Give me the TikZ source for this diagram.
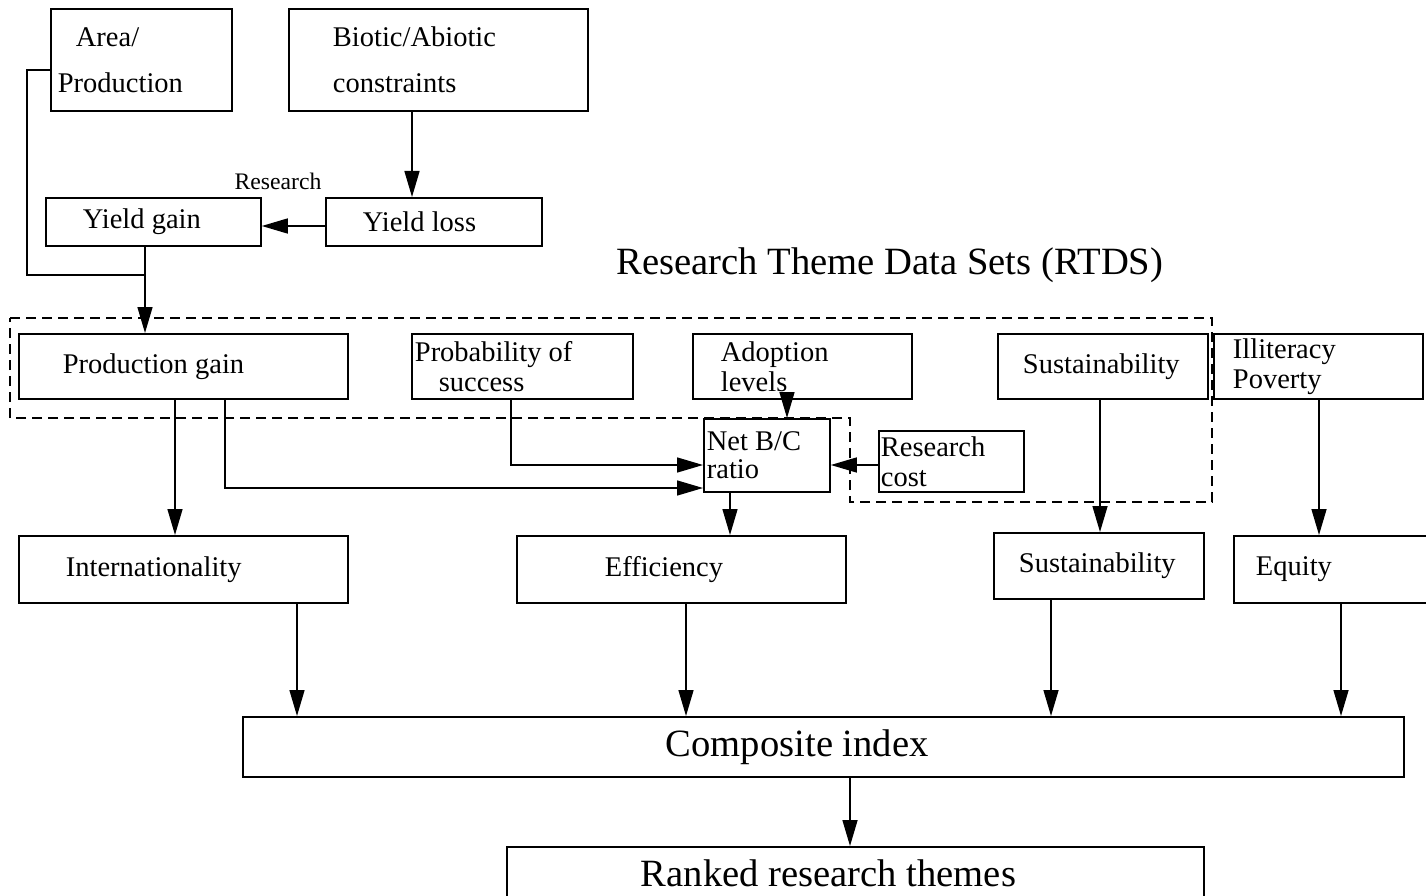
\documentclass[tikz,border=0pt]{standalone}
\usepackage{fontspec}
\setmainfont{Liberation Serif}
\usetikzlibrary{arrows.meta}
\tikzset{
  box/.style={draw, line width=1.8pt, rectangle, anchor=north west, align=flush left,
    inner ysep=0pt, font=\fontsize{28.5}{30}\selectfont},
  conn/.style={line width=1.5pt},
  arr/.style={conn, -{Triangle[length=26pt,width=15pt]}},
  region/.style={line width=1.6pt, dash pattern=on 10pt off 6pt}
}
\begin{document}
\begin{tikzpicture}[x=1pt,y=-1pt]
\useasboundingbox (0,0) rectangle (1426,896);
\clip (0,0) rectangle (1426,896);
\fill[white] (0,0) rectangle (1426,896);

% top row
\node[box, minimum width=181pt, minimum height=102pt, inner xsep=7pt, text width=167pt,
      font=\fontsize{28.5}{46}\selectfont] (area) at (50,8) {\hspace*{18pt}Area/\\Production};
\node[box, minimum width=299pt, minimum height=102pt, inner xsep=44pt, text width=211pt,
      font=\fontsize{28.5}{46}\selectfont] (biotic) at (288,8) {Biotic/Abiotic\\constraints};
\node[box, minimum width=216pt, minimum height=48pt, inner xsep=37pt, text width=142pt] (yloss) at (325,197) {Yield loss};
\node[box, minimum width=215pt, minimum height=48pt, inner xsep=37pt, text width=141pt] (ygain) at (45,197) {Yield gain};
\node[font=\fontsize{23.7}{25}\selectfont] (reslbl) at (278,181) {Research};
\node[font=\fontsize{38.6}{40}\selectfont] (title) at (890,265) {Research Theme Data Sets (RTDS)};

% RTDS row
\node[box, minimum width=329pt, minimum height=65pt, inner xsep=44pt, text width=241pt] (pgain) at (18,333) {Production gain};
\node[box, minimum width=221pt, minimum height=65pt, inner xsep=3pt, text width=215pt] (prob) at (411,333) {Probability of\\\hspace*{24pt}success};
\node[box, minimum width=219pt, minimum height=65pt, inner xsep=28pt, text width=163pt] (adopt) at (692,333) {Adoption\\levels};
\node[box, minimum width=210pt, minimum height=65pt, inner xsep=25pt, text width=160pt] (sust) at (997,333) {Sustainability};
\node[box, minimum width=209pt, minimum height=65pt, inner xsep=19pt, text width=171pt] (illit) at (1213,333) {Illiteracy\\Poverty};
\node[box, minimum width=126pt, minimum height=73pt, inner xsep=3pt, text width=120pt,
      font=\fontsize{28.5}{28}\selectfont] (netbc) at (703,418) {Net B/C\\ratio};
\node[box, minimum width=145pt, minimum height=61pt, inner xsep=2pt, text width=141pt] (rcost) at (878,430) {Research\\cost};

% criteria row
\node[box, minimum width=329pt, minimum height=67pt, inner xsep=47pt, text width=235pt] (intl) at (18,535) {Internationality};
\node[box, minimum width=329pt, minimum height=67pt, inner xsep=88pt, text width=153pt] (eff) at (516,535) {Efficiency};
\node[box, minimum width=210pt, minimum height=66pt, inner xsep=25pt, text width=160pt] (sust2) at (993,532) {Sustainability};
\node[box, minimum width=207pt, minimum height=67pt, inner xsep=22pt, text width=163pt] (equity) at (1233,535) {Equity};

% bottom
\node[box, minimum width=1161pt, minimum height=60pt, inner xsep=423pt, text width=315pt,
      font=\fontsize{38.6}{40}\selectfont] (comp) at (242,716) {Composite index};
\node[box, minimum width=697pt, minimum height=52pt, inner xsep=134pt, text width=429pt,
      font=\fontsize{38.6}{40}\selectfont] (ranked) at (506,846) {Ranked research themes};

% dashed RTDS region
\draw[region] (10,318) -- (1212,318) -- (1212,502) -- (850,502) -- (850,418) -- (10,418) -- cycle;

% connectors
\coordinate (join) at (145,275);
\draw[conn] (area.west |- 0,70) -| (27,275) -- (join);
\draw[conn] (ygain.south -| join) -- (join);
\draw[arr] (join) -- (join |- pgain.north);
\draw[arr] (412,0 |- biotic.south) -- (412,0 |- yloss.north);
\draw[arr] (yloss.west |- 0,226) -- (ygain.east |- 0,226);

\draw[arr] (175,0 |- pgain.south) -- (175,0 |- intl.north);
\draw[arr] (225,0 |- pgain.south) |- (netbc.west |- 0,488);
\draw[arr] (511,0 |- prob.south) |- (netbc.west |- 0,465);
\draw[arr] (787,0 |- adopt.south) -- (787,0 |- netbc.north);
\draw[arr] (rcost.west |- 0,465) -- (netbc.east |- 0,465);
\draw[arr] (730,0 |- netbc.south) -- (730,0 |- eff.north);
\draw[arr] (1100,0 |- sust.south) -- (1100,0 |- sust2.north);
\draw[arr] (1319,0 |- illit.south) -- (1319,0 |- equity.north);

\draw[arr] (297,0 |- intl.south) -- (297,0 |- comp.north);
\draw[arr] (686,0 |- eff.south) -- (686,0 |- comp.north);
\draw[arr] (1051,0 |- sust2.south) -- (1051,0 |- comp.north);
\draw[arr] (1341,0 |- equity.south) -- (1341,0 |- comp.north);
\draw[arr] (850,0 |- comp.south) -- (850,0 |- ranked.north);
\end{tikzpicture}
\end{document}
